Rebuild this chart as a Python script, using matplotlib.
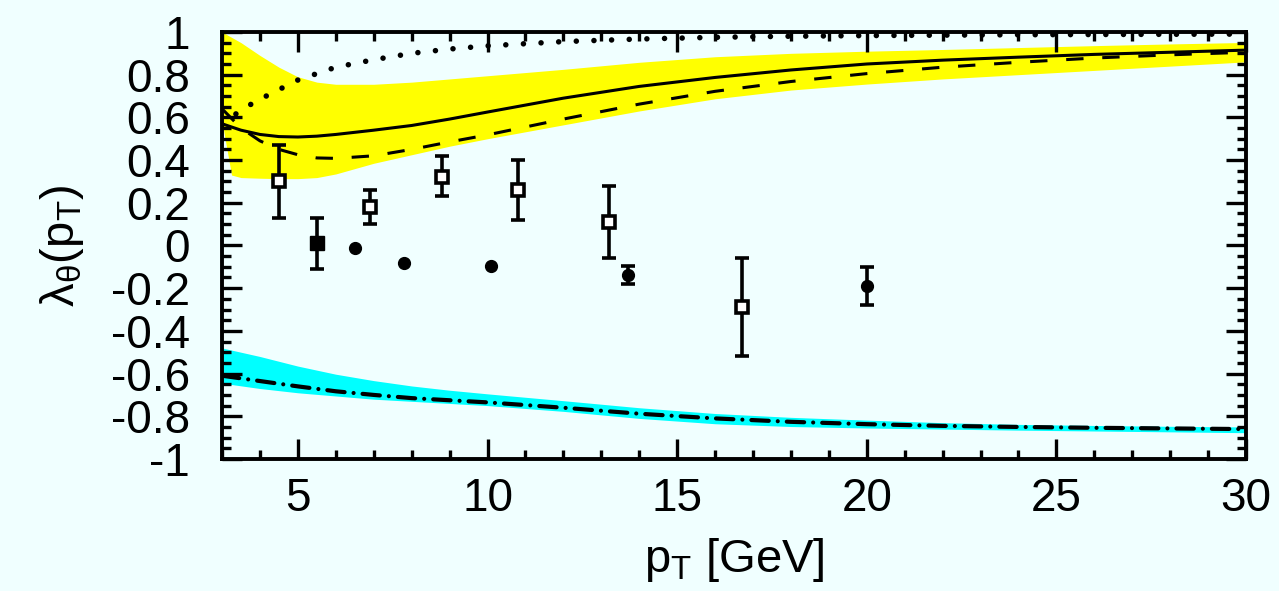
import numpy as np
import matplotlib
matplotlib.use("Agg")
import matplotlib.pyplot as plt
from matplotlib.ticker import MultipleLocator

plt.rcParams['font.family'] = ['Liberation Sans', 'DejaVu Sans']
plt.rcParams['mathtext.fontset'] = 'custom'
plt.rcParams['mathtext.rm'] = 'Liberation Sans'
plt.rcParams['mathtext.it'] = 'Liberation Sans'
plt.rcParams['lines.scale_dashes'] = False

# theory curves
x_line = [3, 3.5, 4, 4.5, 5, 5.5, 6, 7, 8, 9, 10, 12, 14, 16, 18, 20, 22, 24, 26, 28, 30]
solid = [0.57, 0.54, 0.52, 0.51, 0.508, 0.512, 0.52, 0.54, 0.562, 0.592, 0.625, 0.69, 0.745,
         0.787, 0.822, 0.85, 0.868, 0.882, 0.895, 0.905, 0.915]
dashed = [0.64, 0.55, 0.49, 0.45, 0.425, 0.41, 0.408, 0.42, 0.45, 0.485, 0.518, 0.592, 0.662,
          0.722, 0.768, 0.805, 0.835, 0.858, 0.878, 0.893, 0.905]
dotted = [0.565, 0.635, 0.685, 0.73, 0.775, 0.805, 0.835, 0.87, 0.90, 0.92, 0.935, 0.955, 0.967,
          0.975, 0.98, 0.983, 0.985, 0.987, 0.988, 0.989, 0.99]

# yellow band
x_band = [3, 3.25, 3.5, 4, 4.5, 5, 5.5, 6, 7, 8, 9, 10, 12, 14, 16, 18, 20, 22, 24, 26, 28, 30]
band_hi = [1.0, 0.975, 0.95, 0.89, 0.835, 0.79, 0.765, 0.755, 0.755, 0.765, 0.78, 0.795, 0.825,
           0.858, 0.884, 0.9, 0.91, 0.918, 0.927, 0.936, 0.944, 0.951]
band_lo = [0.58, 0.33, 0.318, 0.315, 0.313, 0.313, 0.318, 0.335, 0.385, 0.425, 0.465, 0.5, 0.565,
           0.63, 0.687, 0.728, 0.756, 0.78, 0.80, 0.82, 0.84, 0.86]

# cyan band + dash-dot curve
x_neg = [3, 4, 5, 6, 7, 8, 9, 10, 12, 14, 16, 18, 20, 22, 24, 26, 28, 30]
neg_hi = [-0.48, -0.52, -0.565, -0.603, -0.633, -0.658, -0.678, -0.695, -0.727, -0.76, -0.787,
          -0.805, -0.818, -0.83, -0.838, -0.843, -0.847, -0.85]
neg_lo = [-0.645, -0.67, -0.69, -0.705, -0.72, -0.73, -0.74, -0.75, -0.777, -0.81, -0.835,
          -0.848, -0.855, -0.86, -0.865, -0.869, -0.873, -0.877]
neg_mid = [-0.61, -0.635, -0.66, -0.683, -0.70, -0.715, -0.725, -0.735, -0.76, -0.788, -0.81,
           -0.826, -0.837, -0.845, -0.85, -0.854, -0.857, -0.86]

# data points: open squares
sq_x = [4.5, 6.9, 8.8, 10.8, 13.2, 16.7]
sq_y = [0.30, 0.18, 0.32, 0.26, 0.11, -0.29]
sq_lo = [0.13, 0.10, 0.23, 0.12, -0.06, -0.52]
sq_hi = [0.47, 0.26, 0.42, 0.40, 0.28, -0.06]

# filled square
fsq_x = [5.5]
fsq_y = [0.01]
fsq_lo = [-0.11]
fsq_hi = [0.13]

# filled circles
circ_x = [6.5, 7.8, 10.1, 13.7, 20.0]
circ_y = [-0.01, -0.08, -0.095, -0.14, -0.19]
circ_lo = [-0.01, -0.08, -0.095, -0.18, -0.28]
circ_hi = [-0.01, -0.08, -0.095, -0.095, -0.10]

bg = '#f0ffff'
fig = plt.figure(figsize=(12.79, 5.91), dpi=100, facecolor=bg)
ax = fig.add_axes([0.1736, 0.2234, 0.8006, 0.7225])
ax.set_facecolor(bg)

ax.fill_between(x_band, band_lo, band_hi, color='#ffff00', lw=0, zorder=1)
ax.fill_between(x_neg, neg_lo, neg_hi, color='#00ffff', lw=0, zorder=1)

ax.plot(x_line, solid, color='k', lw=2.2, zorder=3)
ax.plot(x_line, dashed, color='k', lw=2.2, dashes=(12.5, 13.5), zorder=3)
ax.plot(x_line, dotted, color='k', lw=4.0, dashes=(0.01, 12.7), dash_capstyle='round', zorder=3)
ax.plot(x_neg, neg_mid, color='k', lw=3.0, dashes=(12.5, 6.5, 0.01, 6.5),
        dash_capstyle='round', zorder=3)

eb = dict(fmt='none', ecolor='k', elinewidth=2.6, capsize=5, capthick=2.6, zorder=4)

sq_err = [np.subtract(sq_y, sq_lo), np.subtract(sq_hi, sq_y)]
ax.errorbar(sq_x, sq_y, yerr=sq_err, **eb)
ax.plot(sq_x, sq_y, 's', ms=9, mfc='white', mec='k', mew=2.6, zorder=5)

fsq_err = [np.subtract(fsq_y, fsq_lo), np.subtract(fsq_hi, fsq_y)]
ax.errorbar(fsq_x, fsq_y, yerr=fsq_err, **eb)
ax.plot(fsq_x, fsq_y, 's', ms=10, mfc='k', mec='k', zorder=5)

c_lo = np.subtract(circ_y, circ_lo)
c_hi = np.subtract(circ_hi, circ_y)
has_err = (c_lo + c_hi) > 0
ax.errorbar(np.array(circ_x)[has_err], np.array(circ_y)[has_err],
            yerr=[c_lo[has_err], c_hi[has_err]], **eb)
ax.plot(circ_x, circ_y, 'o', ms=8.5, color='k', zorder=5)

ax.set_xlim(3, 30)
ax.set_ylim(-1, 1)
ax.xaxis.set_major_locator(MultipleLocator(5))
ax.xaxis.set_minor_locator(MultipleLocator(1))
ax.yaxis.set_minor_locator(MultipleLocator(0.05))
ax.set_yticks(np.arange(-1, 1.01, 0.2))
ax.set_yticklabels(['-1', '-0.8', '-0.6', '-0.4', '-0.2', '0', '0.2', '0.4', '0.6', '0.8', '1'])

ax.tick_params(which='both', direction='in', top=True, right=True, width=2.4, colors='k')
ax.tick_params(which='major', length=14.5)
ax.tick_params(which='minor', length=6.5)
ax.tick_params(axis='x', which='major', labelsize=33, pad=13)
ax.tick_params(axis='y', which='major', labelsize=33, pad=23)
for s in ax.spines.values():
    s.set_linewidth(2.8)

ax.set_xlabel(r'$\mathrm{p_T}$ [GeV]', fontsize=34, labelpad=11)
ax.set_ylabel(r'$\mathrm{\lambda_\theta(p_T)}$', fontsize=34, labelpad=18)

fig.savefig('out.png', dpi=100, facecolor=bg)
